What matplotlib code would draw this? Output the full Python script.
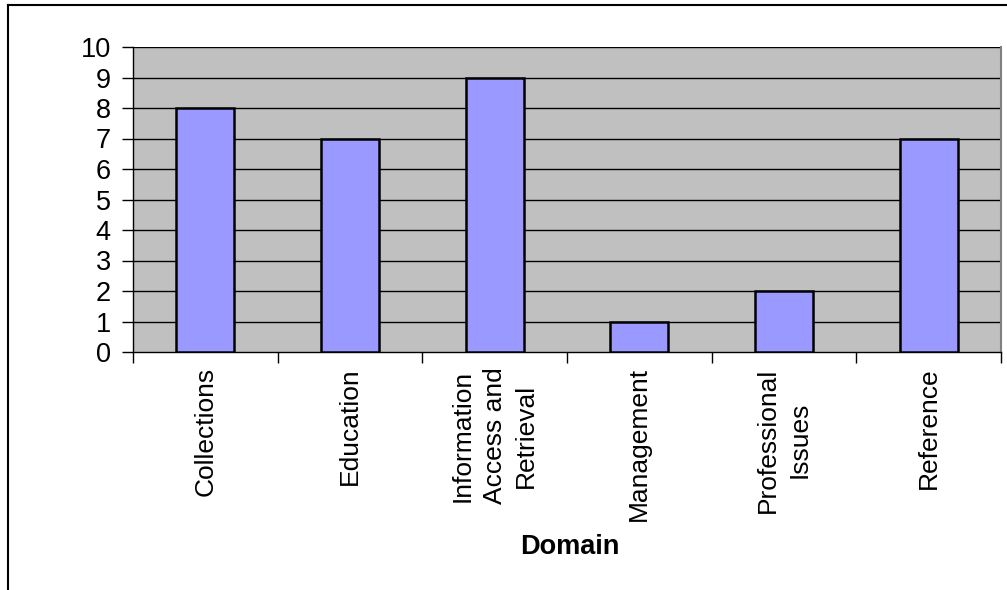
import matplotlib
matplotlib.use("Agg")
import matplotlib.pyplot as plt
from matplotlib.lines import Line2D

categories = ["Collections", "Education", "Information\nAccess and\nRetrieval",
              "Management", "Professional\nIssues", "Reference"]
values = [8, 7, 9, 1, 2, 7]
yticks = list(range(0, 11))

plt.rcParams['font.family'] = ['Liberation Sans', 'DejaVu Sans']

fig = plt.figure(figsize=(10.07, 5.9), dpi=100)
ax = fig.add_axes([133/1007, 1-352/590, (1001-133)/1007, (352-47)/590])
ax.set_facecolor('#C0C0C0')
x = list(range(len(categories)))
ax.bar(x, values, width=0.4, color='#9999FF', edgecolor='black', linewidth=1.8, zorder=3)
ax.set_xlim(-0.5, len(categories)-0.5)
ax.set_ylim(0, 10)
ax.set_yticks(yticks)
ax.tick_params(axis='y', labelsize=19.5, length=8, width=1, direction='out', pad=8)
for yv in yticks[1:]:
    ax.axhline(yv, color='black', linewidth=1, zorder=1)
ax.set_xticks([i - 0.5 for i in range(len(categories)+1)])
ax.set_xticklabels([])
ax.tick_params(axis='x', length=8, width=1, direction='out')
ax.set_xticks(x, minor=True)
ax.set_xticklabels(categories, minor=True, rotation=90, fontsize=19, va='top', ha='center', linespacing=1.4)
ax.tick_params(axis='x', which='minor', length=0, pad=11)
ax.spines['right'].set_color('#808080')
ax.spines['right'].set_linewidth(1.5)
ax.spines['top'].set_visible(False)
ax.spines['left'].set_linewidth(1)
ax.spines['bottom'].set_linewidth(1)
fig.text(570/1007, 1-547/590, "Domain", fontsize=19.5, fontweight='bold', ha='center', va='center')

fig.add_artist(Line2D([8/1007, 1], [1-5/590, 1-5/590], color='black', linewidth=1.5, transform=fig.transFigure))
fig.add_artist(Line2D([8/1007, 8/1007], [1-5/590, 0], color='black', linewidth=1.5, transform=fig.transFigure))

fig.savefig("out.png", dpi=100)
